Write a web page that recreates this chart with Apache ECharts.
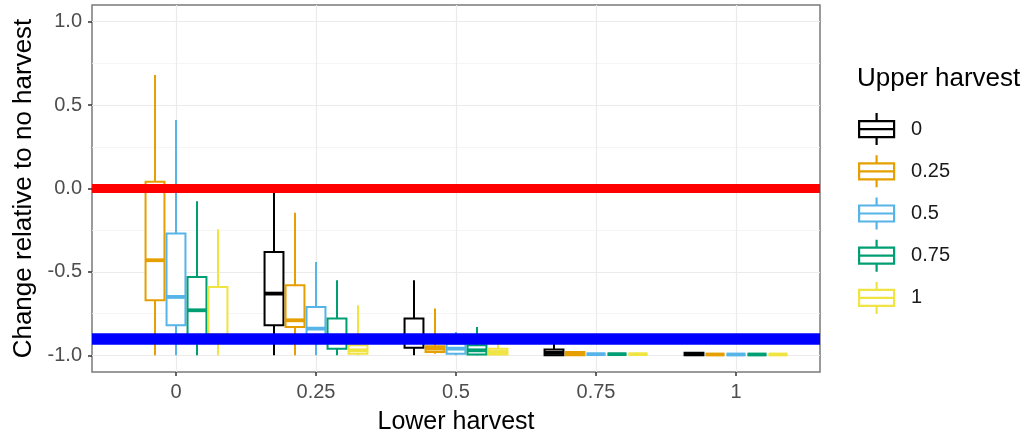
<!DOCTYPE html>
<html>
<head>
<meta charset="utf-8">
<script src="https://cdn.jsdelivr.net/npm/echarts@6/dist/echarts.min.js"></script>
<style>
html,body{margin:0;padding:0;background:#fff;}
#chart{width:1034px;height:440px;}
</style>
</head>
<body>
<div id="chart"></div>
<script>
// ---- data ----
const lowerHarvest = ['0', '0.25', '0.5', '0.75', '1'];          // x categories
const upperHarvest = ['0', '0.25', '0.5', '0.75', '1'];          // groups
const groupColors = ['#000000', '#E69F00', '#56B4E9', '#009E73', '#F0E442'];
// each entry: [min, q1, median, q3, max] for lower harvest 0, 0.25, 0.5, 0.75, 1
const upper0   = [[0, 0, 0, 0, 0], [-1.0, -0.82, -0.63, -0.38, -0.02], [-1.0, -0.955, -0.90, -0.78, -0.55], [-1.0, -1.0, -0.985, -0.965, -0.93], [-1.0, -1.0, -0.993, -0.985, -0.985]];
const upper025 = [[-1.0, -0.67, -0.43, 0.04, 0.68], [-1.0, -0.83, -0.79, -0.58, -0.145], [-0.99, -0.98, -0.96, -0.945, -0.72], [-1.0, -1.0, -0.99, -0.98, -0.98], [-0.995, -0.995, -0.995, -0.995, -0.995]];
const upper05  = [[-1.0, -0.82, -0.65, -0.27, 0.41], [-1.0, -0.90, -0.84, -0.71, -0.44], [-1.0, -0.99, -0.96, -0.93, -0.86], [-0.993, -0.993, -0.993, -0.993, -0.993], [-0.995, -0.995, -0.995, -0.995, -0.995]];
const upper075 = [[-1.0, -0.89, -0.73, -0.53, -0.076], [-1.0, -0.96, -0.90, -0.78, -0.55], [-1.0, -0.995, -0.97, -0.94, -0.83], [-0.993, -0.993, -0.993, -0.993, -0.993], [-0.995, -0.995, -0.995, -0.995, -0.995]];
const upper1   = [[-1.0, -0.91, -0.88, -0.59, -0.245], [-1.0, -0.99, -0.97, -0.94, -0.70], [-1.0, -0.995, -0.98, -0.96, -0.93], [-0.993, -0.993, -0.993, -0.993, -0.993], [-0.995, -0.995, -0.995, -0.995, -0.995]];
const groupData = [upper0, upper025, upper05, upper075, upper1];
const yTicks = [-1, -0.5, 0, 0.5, 1];
const yMinorBreaks = [-0.75, -0.25, 0.25, 0.75];
const xTicks = [0, 1, 2, 3, 4];
const refLines = [{value: 0, color: '#FF0000', width: 9}, {value: -0.9, color: '#0000FF', width: 11.5}];

// ---- layout constants ----
const DODGE = 0.15;      // 0.75 / 5 groups
const BOX_W = 0.135;     // with 10% padding

const FONT = '"Liberation Sans", Arial, Helvetica, sans-serif';

function makeRenderItem(k, color) {
  const offset = (k - 2) * DODGE;
  return function (params, api) {
    const x = api.value(0) + offset;
    const mn = api.value(1), q1 = api.value(2), md = api.value(3), q3 = api.value(4), mx = api.value(5);
    const pMax = api.coord([x, mx]);
    const pQ3 = api.coord([x, q3]);
    const pMd = api.coord([x, md]);
    const pQ1 = api.coord([x, q1]);
    const pMin = api.coord([x, mn]);
    const half = api.size([BOX_W, 0])[0] / 2;
    const cx = pMd[0];
    const lw = 2;
    return {
      type: 'group',
      children: [
        {type: 'line', shape: {x1: cx, y1: pMax[1], x2: cx, y2: pQ3[1]}, style: {stroke: color, lineWidth: lw}},
        {type: 'line', shape: {x1: cx, y1: pQ1[1], x2: cx, y2: pMin[1]}, style: {stroke: color, lineWidth: lw}},
        {type: 'rect', shape: {x: cx - half, y: pQ3[1], width: 2 * half, height: pQ1[1] - pQ3[1]}, style: {fill: '#fff', stroke: color, lineWidth: lw}},
        {type: 'line', shape: {x1: cx - half, y1: pMd[1], x2: cx + half, y2: pMd[1]}, style: {stroke: color, lineWidth: 3.8}}
      ]
    };
  };
}

const boxSeries = upperHarvest.map(function (name, k) {
  return {
    name: name,
    type: 'custom',
    z: 3,
    renderItem: makeRenderItem(k, groupColors[k]),
    encode: {x: 0, y: [1, 2, 3, 4, 5]},
    data: groupData[k].map(function (d, i) { return [i].concat(d); }),
    itemStyle: {color: groupColors[k]}
  };
});

const gridLineStyle = {color: '#ebebeb', width: 1.2, type: 'solid'};
const gridSeries = {
  name: 'grid',
  type: 'line',
  data: [],
  z: 1,
  silent: true,
  markLine: {
    z: 1,
    silent: true,
    symbol: ['none', 'none'],
    label: {show: false},
    animation: false,
    data: [].concat(
      yTicks.map(function (v) { return {yAxis: v, lineStyle: gridLineStyle}; }),
      yMinorBreaks.map(function (v) { return {yAxis: v, lineStyle: {color: '#f2f2f2', width: 0.8, type: 'solid'}}; }),
      xTicks.map(function (v) { return {xAxis: v, lineStyle: gridLineStyle}; })
    )
  }
};

const refSeries = {
  name: 'ref',
  type: 'line',
  data: [],
  z: 10,
  silent: true,
  markLine: {
    z: 10,
    silent: true,
    symbol: ['none', 'none'],
    label: {show: false},
    animation: false,
    data: refLines.map(function (r) { return {yAxis: r.value, lineStyle: {color: r.color, width: r.width, type: 'solid'}}; })
  }
};

const legendIcon = 'path://M17.5,0L17.5,8M0,8L35,8L35,24L0,24ZM0,16L35,16M17.5,24L17.5,32';

const option = {
  animation: false,
  backgroundColor: '#fff',
  textStyle: {fontFamily: FONT},
  title: {
    text: 'Upper harvest',
    left: 857,
    top: 66,
    padding: 0,
    textStyle: {fontFamily: FONT, fontSize: 26, fontWeight: 'normal', color: '#000'}
  },
  legend: {
    orient: 'vertical',
    left: 858,
    top: 112,
    padding: 0,
    itemWidth: 35,
    itemHeight: 32,
    itemGap: 8,
    selectedMode: false,
    textStyle: {fontFamily: FONT, fontSize: 20, color: '#1a1a1a', padding: [0, 0, 0, 12]},
    data: upperHarvest.map(function (name, k) {
      return {name: name, icon: legendIcon, itemStyle: {color: '#fff', borderColor: groupColors[k], borderWidth: 2.2}};
    })
  },
  grid: {
    left: 92,
    right: 214,
    top: 5,
    bottom: 67,
    show: true,
    backgroundColor: '#fff',
    borderColor: '#7a7a7a',
    borderWidth: 1.5
  },
  xAxis: {
    type: 'value',
    min: -0.6,
    max: 4.6,
    splitLine: {show: false},
    axisLine: {show: false, onZero: false},
    axisTick: {show: true, length: 4, customValues: xTicks, lineStyle: {color: '#333', width: 1.5}},
    axisLabel: {
      customValues: xTicks,
      formatter: function (v) { return lowerHarvest[Math.round(v)]; },
      fontFamily: FONT, fontSize: 20, color: '#4d4d4d', margin: 10
    },
    name: 'Lower harvest',
    nameLocation: 'middle',
    nameGap: 38,
    nameTextStyle: {fontFamily: FONT, fontSize: 25, color: '#000'}
  },
  yAxis: {
    type: 'value',
    min: -1.1,
    max: 1.1,
    splitLine: {show: false},
    axisLine: {show: false, onZero: false},
    axisTick: {show: true, length: 4, customValues: yTicks, lineStyle: {color: '#333', width: 1.5}},
    axisLabel: {
      customValues: yTicks,
      formatter: function (v) { return v.toFixed(1); },
      fontFamily: FONT, fontSize: 20, color: '#4d4d4d', margin: 10
    },
    name: 'Change relative to no harvest',
    nameLocation: 'middle',
    nameGap: 50,
    nameRotate: 90,
    nameTextStyle: {fontFamily: FONT, fontSize: 26, color: '#000'}
  },
  series: [gridSeries].concat(boxSeries, [refSeries])
};

const chart = echarts.init(document.getElementById('chart'), null, {renderer: 'canvas'});
chart.setOption(option);
</script>
</body>
</html>
